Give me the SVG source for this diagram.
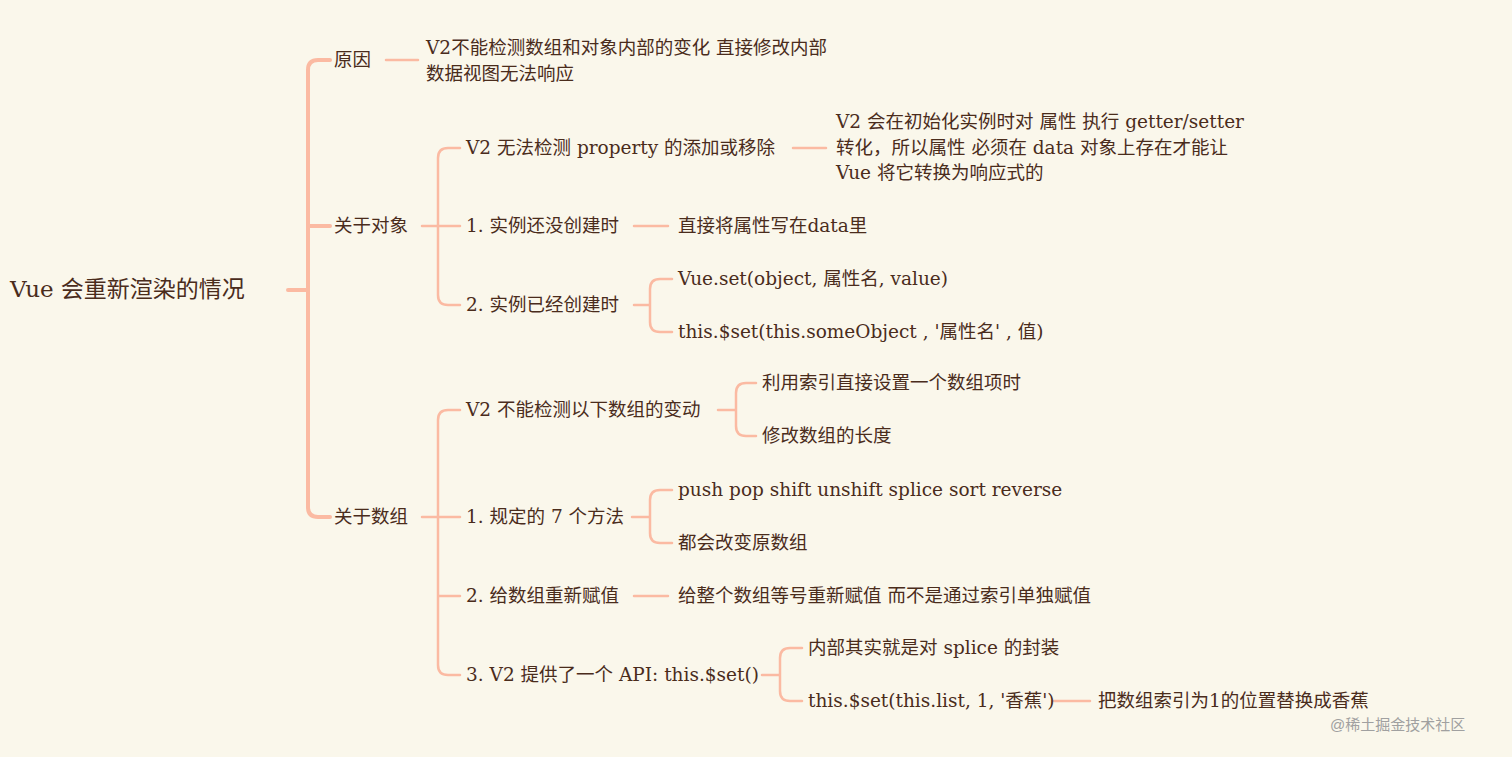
<svg xmlns="http://www.w3.org/2000/svg" width="1512" height="757" viewBox="0 0 1512 757">
<style>
text{font-family:"DejaVu Serif","Noto Sans CJK SC",serif;font-size:18.5px;fill:#4a2c1c}
.r{font-size:23px}
.w{font-family:"Liberation Sans","Noto Sans CJK SC",sans-serif;font-size:15px;fill:#a0a0a0}
.c path{fill:none;stroke:#fbbaa2;stroke-width:2.5;stroke-linecap:round}
.c .m{stroke-width:4}
</style>
<rect width="1512" height="757" fill="#faf7eb"/>
<g class="c" id="connectors">
<path class="m" d="M288 290H308M330 60H318Q308 60 308 70V507Q308 517 318 517H330M308 226H330"/>
<path d="M386 60H418"/>
<path d="M422 226H438M460 148H448Q438 148 438 158V295Q438 305 448 305H460M438 226H460"/>
<path d="M793 148H826"/>
<path d="M634 226H668"/>
<path d="M634 305H650M672 279H660Q650 279 650 289V322Q650 332 660 332H672"/>
<path d="M422 517H438M460 410H448Q438 410 438 420V665Q438 675 448 675H460M438 517H460M438 596H460"/>
<path d="M718 410H736M756 383H746Q736 383 736 393V426Q736 436 746 436H756"/>
<path d="M632 517H650M672 490H660Q650 490 650 500V533Q650 543 660 543H672"/>
<path d="M634 596H668"/>
<path d="M762 675H780M802 648H790Q780 648 780 658V691Q780 701 790 701H802"/>
<path d="M1054 701H1090"/>
</g>
<g id="root"><text class="r" x="10" y="297">Vue 会重新渲染的情况</text></g>
<g id="n1"><text x="334" y="66">原因</text></g>
<g id="n1a"><text x="426" y="54">V2不能检测数组和对象内部的变化 直接修改内部</text><text x="426" y="80">数据视图无法响应</text></g>
<g id="n2"><text x="334" y="232">关于对象</text></g>
<g id="n2a"><text x="466" y="154">V2 无法检测 property 的添加或移除</text></g>
<g id="n2a1"><text x="836" y="128">V2 会在初始化实例时对 属性 执行 getter/setter</text><text x="836" y="154">转化，所以属性 必须在 data 对象上存在才能让</text><text x="836" y="179">Vue 将它转换为响应式的</text></g>
<g id="n2b"><text x="466" y="232">1. 实例还没创建时</text></g>
<g id="n2b1"><text x="678" y="232">直接将属性写在data里</text></g>
<g id="n2c"><text x="466" y="311">2. 实例已经创建时</text></g>
<g id="n2c1"><text x="678" y="285">Vue.set(object, 属性名, value)</text></g>
<g id="n2c2"><text x="678" y="338">this.$set(this.someObject , '属性名' , 值)</text></g>
<g id="n3"><text x="334" y="523">关于数组</text></g>
<g id="n3a"><text x="466" y="416">V2 不能检测以下数组的变动</text></g>
<g id="n3a1"><text x="762" y="389">利用索引直接设置一个数组项时</text></g>
<g id="n3a2"><text x="762" y="442">修改数组的长度</text></g>
<g id="n3b"><text x="466" y="523">1. 规定的 7 个方法</text></g>
<g id="n3b1"><text x="678" y="496">push pop shift unshift splice sort reverse</text></g>
<g id="n3b2"><text x="678" y="549">都会改变原数组</text></g>
<g id="n3c"><text x="466" y="602">2. 给数组重新赋值</text></g>
<g id="n3c1"><text x="678" y="602">给整个数组等号重新赋值 而不是通过索引单独赋值</text></g>
<g id="n3d"><text x="466" y="681">3. V2 提供了一个 API: this.$set()</text></g>
<g id="n3d1"><text x="808" y="654">内部其实就是对 splice 的封装</text></g>
<g id="n3d2"><text x="808" y="707">this.$set(this.list, 1, '香蕉')</text></g>
<g id="n3d3"><text x="1098" y="707">把数组索引为1的位置替换成香蕉</text></g>
<text class="w" x="1330" y="730">@稀土掘金技术社区</text>
</svg>
